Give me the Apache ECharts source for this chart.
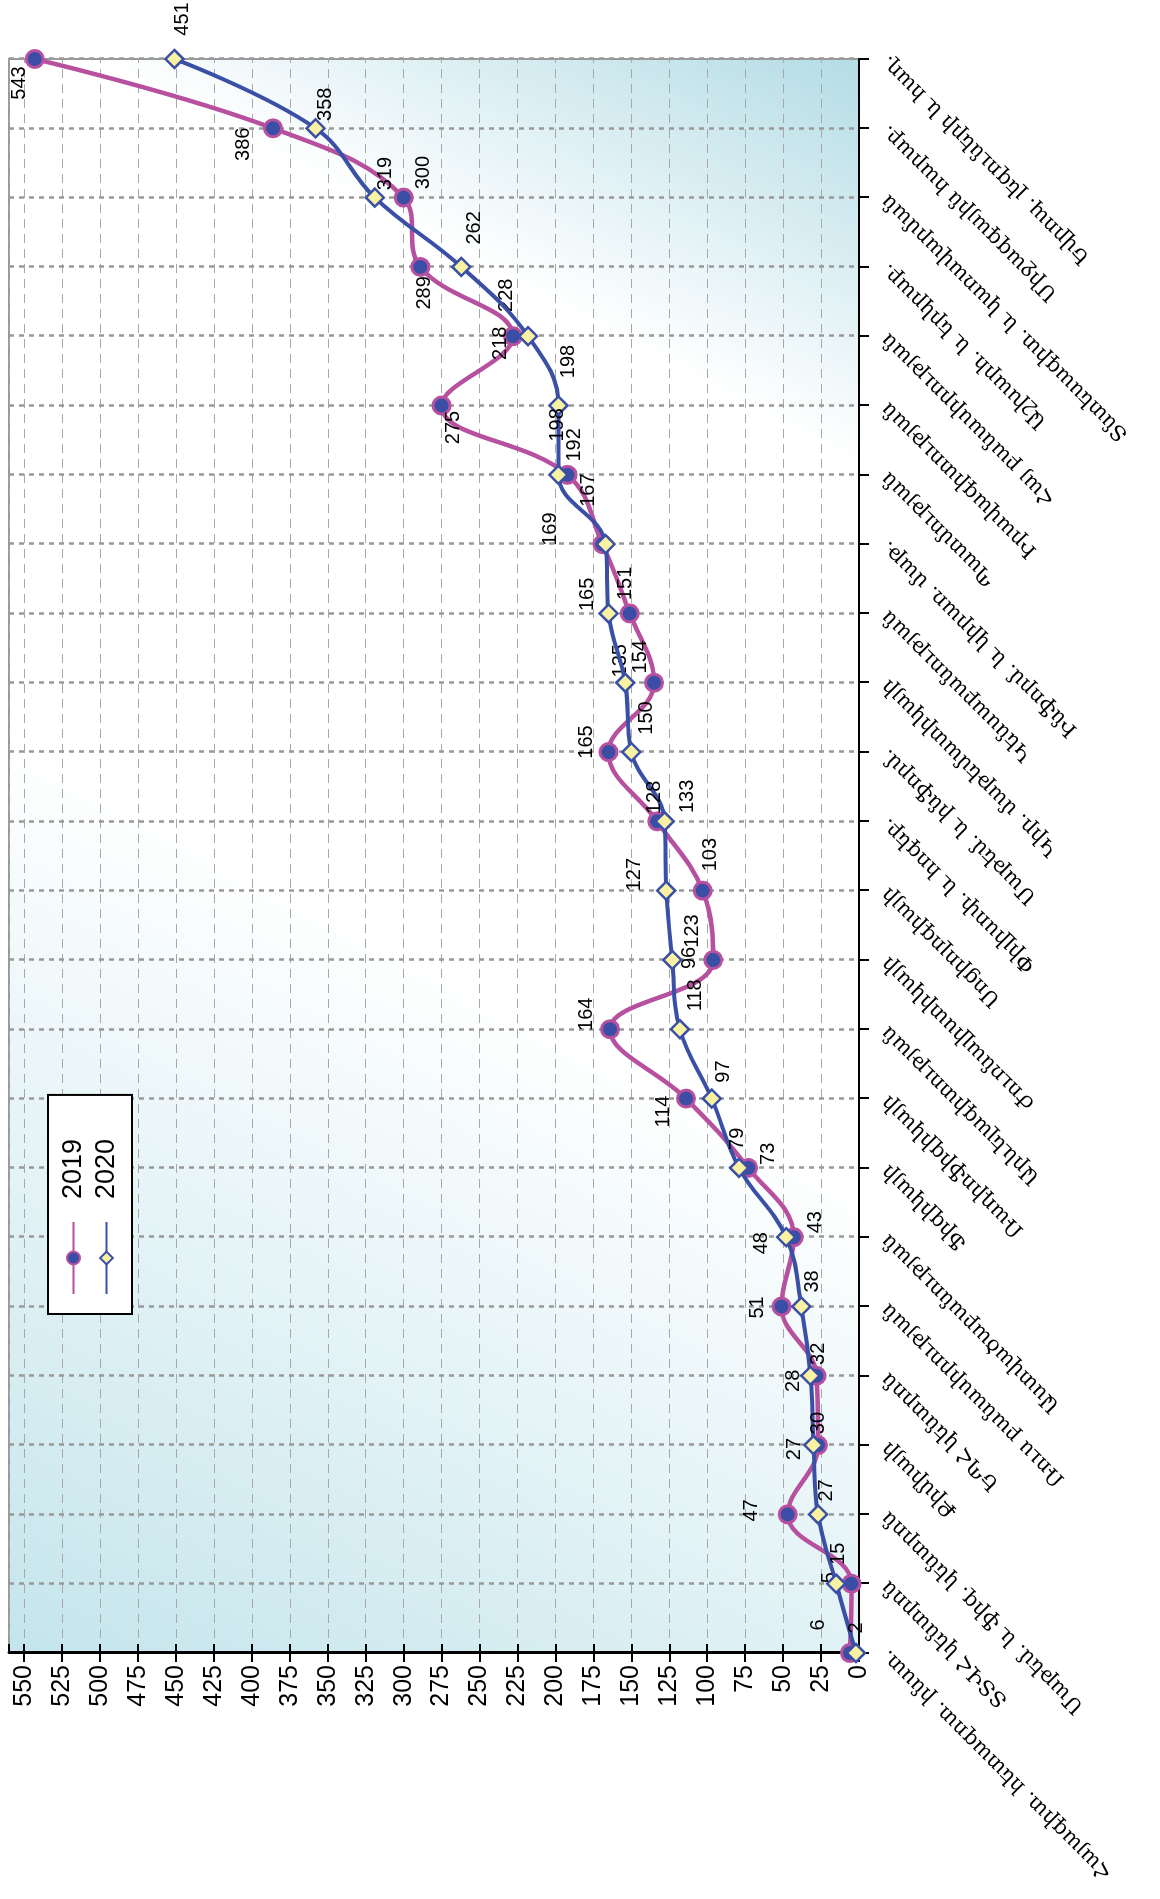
<!DOCTYPE html>
<html>
<head>
<meta charset="utf-8">
<script src="https://cdn.jsdelivr.net/npm/echarts@6/dist/echarts.min.js"></script>
<style>
html,body{margin:0;padding:0;width:1160px;height:1899px;overflow:hidden;background:#ffffff;}
#chart{position:absolute;left:0;top:0;width:1899px;height:1160px;transform-origin:0 0;transform:translate(0,1899px) rotate(-90deg);}
</style>
</head>
<body>
<div id="chart"></div>
<script>
// categories, first at the axis origin
const categories = [
  "Հայագիտ. հետազոտ. ինստ.",
  "ՏՏՎՀ կենտրոն",
  "Մաթեմ. և ֆիզ. կենտրոն",
  "Քիմիայի",
  "ԵՊՀ կենտրոն",
  "Ռուս բանասիրության",
  "Աստվածաբանության",
  "Ֆիզիկայի",
  "Ռադիոֆիզիկայի",
  "Արևելագիտության",
  "Ժուռնալիստիկայի",
  "Սոցիոլոգիայի",
  "Փիլիսոփ. և հոգեբ.",
  "Մաթեմ. և ինֆորմ.",
  "Կիր. մաթեմատիկայի",
  "Կենսաբանության",
  "Ինֆորմ. և կիրառ. մաթ.",
  "Պատմության",
  "Իրավագիտության",
  "Հայ բանասիրության",
  "Աշխարհ. և երկրաբ.",
  "Տնտեսագիտ. և կառավարման",
  "Միջազգային հարաբ.",
  "Եվրոպ. լեզուների և հաղ."
];
const values2019 = [6, 5, 47, 27, 28, 51, 43, 73, 114, 164, 96, 103, 133, 165, 135, 151, 169, 192, 275, 228, 289, 300, 386, 543];
const values2020 = [2, 15, 27, 30, 32, 38, 48, 79, 97, 118, 123, 127, 128, 150, 154, 165, 167, 198, 198, 218, 262, 319, 358, 451];
const seriesNames = ["2019", "2020"];
const valueMin = 0, valueMax = 560, valueStep = 25;

// label placement offsets from each point, in pixels (style only)
const labelShift2019 = [[28,-31],[6,-22],[4,-36],[-4,-24],[-5,-23],[-1,-24],[15,22],[14,20],[-13,-22],[15,-24],[2,-24],[36,8],[25,30],[10,-22],[22,-34],[30,-4],[15,-52],[30,7],[-22,12],[41,-6],[-26,4],[25,20],[-16,-30],[-24,-15]];
const labelShift2020 = [[25,1],[30,2],[24,8],[22,5],[22,8],[25,11],[-6,-25],[29,-2],[27,12],[34,16],[29,20],[16,-32],[24,-10],[34,15],[26,15],[19,-21],[54,-17],[50,-1],[44,10],[-7,-28],[39,13],[24,11],[24,10],[40,8]];

const chart = echarts.init(document.getElementById('chart'), null, {renderer: 'canvas'});

const labelFont = {fontFamily: 'Liberation Sans, Arial, sans-serif', fontSize: 20, color: '#000'};

function buildData(values, shifts) {
  return values.map((v, i) => ({value: v, label: {offset: shifts[i]}}));
}

chart.setOption({
  animation: false,
  backgroundColor: '#ffffff',
  grid: {
    left: 246, right: 59, top: 9, bottom: 301,
    show: true,
    borderColor: '#999999', borderWidth: 2,
    backgroundColor: {
      type: 'linear', x: 0, y: 0, x2: 1, y2: 1,
      colorStops: [
        {offset: 0, color: '#c4e5ec'},
        {offset: 0.45, color: '#ffffff'},
        {offset: 0.8, color: '#ffffff'},
        {offset: 1, color: '#b3dce5'}
      ]
    }
  },
  legend: {
    orient: 'vertical',
    left: 585, top: 48,
    data: seriesNames,
    backgroundColor: '#ffffff',
    borderColor: '#000000', borderWidth: 2,
    padding: [12, 44, 12, 19],
    itemWidth: 72, itemHeight: 16, itemGap: 6,
    textStyle: {fontFamily: 'Liberation Sans, Arial, sans-serif', fontSize: 27, color: '#000', padding: [0, 0, 0, 18]}
  },
  xAxis: {
    type: 'category',
    data: categories,
    boundaryGap: false,
    axisLine: {lineStyle: {color: '#000', width: 2}},
    axisTick: {show: true, length: 10, interval: 0, lineStyle: {color: '#000', width: 2}},
    axisLabel: {interval: 0, rotate: 45, margin: 26, fontFamily: 'DejaVu Serif, serif', fontSize: 21, color: '#000'},
    splitLine: {show: true, interval: 0, lineStyle: {color: '#999999', width: 2.5, type: [5, 5]}}
  },
  yAxis: [
    {
      type: 'value',
      min: valueMin, max: valueMax, interval: valueStep,
      axisLine: {show: true, lineStyle: {color: '#000', width: 3}},
      axisTick: {show: true, length: 9, lineStyle: {color: '#000', width: 2}},
      axisLabel: {showMaxLabel: false, margin: 12, fontFamily: 'Liberation Sans, Arial, sans-serif', fontSize: 25, color: '#000'},
      splitLine: {show: true, lineStyle: {color: '#a8a8a8', width: 1, type: [9, 6]}}
    },
    {
      type: 'value', position: 'left', offset: 0,
      min: valueMin, max: valueMax, interval: valueStep,
      axisLine: {show: false},
      axisTick: {show: true, inside: true, length: 9, lineStyle: {color: '#000', width: 2}},
      axisLabel: {show: false},
      splitLine: {show: false}
    }
  ],
  series: [
    {
      name: seriesNames[0], type: 'line', smooth: 0.4, yAxisIndex: 0,
      symbol: 'circle', symbolSize: 17,
      lineStyle: {color: '#b7519f', width: 4.5},
      itemStyle: {color: '#3b4ea6', borderColor: '#b7519f', borderWidth: 3},
      label: Object.assign({show: true, position: 'inside'}, labelFont),
      data: buildData(values2019, labelShift2019),
      z: 3
    },
    {
      name: seriesNames[1], type: 'line', smooth: 0.4, yAxisIndex: 0,
      symbol: 'diamond', symbolSize: 18,
      lineStyle: {color: '#3a4fa6', width: 4},
      itemStyle: {color: '#f8f2a2', borderColor: '#3a4fa6', borderWidth: 2.5},
      label: Object.assign({show: true, position: 'inside'}, labelFont),
      data: buildData(values2020, labelShift2020),
      z: 4
    }
  ]
});
</script>
</body>
</html>
